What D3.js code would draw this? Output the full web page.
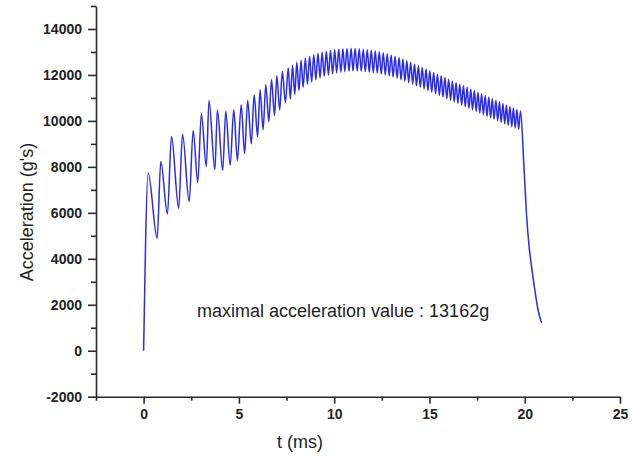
<!DOCTYPE html>
<html>
<head>
<meta charset="utf-8">
<script src="https://cdn.jsdelivr.net/npm/d3@7"></script>
<style>
  body { margin: 0; background: #fff; }
  .tick text { font-family: "Liberation Sans", Arial, sans-serif; font-weight: bold; font-size: 14px; fill: #222; }
  .label { font-family: "Liberation Sans", Arial, sans-serif; font-size: 18px; fill: #222; }
</style>
</head>
<body>
<svg id="root"></svg>
<script>
// time (ms) and acceleration (g's): start, early waves
const riseT = [0, 0.24, 0.71, 0.90, 1.25, 1.46, 1.84, 2.04, 2.39, 2.60, 2.84, 3.03, 3.29, 3.43, 3.74, 3.87,
  4.15, 4.31, 4.54, 4.73, 4.92, 5.12, 5.30, 5.46, 5.65, 5.80, 5.98, 6.11, 6.27, 6.41, 6.57, 6.71, 6.87, 6.99, 7.14, 7.28, 7.44];
const riseA = [0, 7726, 4895, 8232, 5950, 9320, 6200, 9425, 6490, 9582, 7330, 10309, 8014, 10888, 7880, 10480,
  7850, 10420, 8070, 10484, 8290, 10701, 8580, 10900, 9000, 11137, 9320, 11355, 9613, 11572, 9960, 11790, 10230, 11964, 10480, 12152, 10800];

// dense part: peaks and the troughs between them
const peakT = [7.59, 7.815, 8.039, 8.263, 8.486, 8.708, 8.929, 9.149, 9.369, 9.588, 9.806, 10.024, 10.241, 10.457, 10.672,
  10.887, 11.100, 11.314, 11.526, 11.737, 11.948, 12.158, 12.368, 12.576, 12.784, 12.991, 13.198, 13.403, 13.608, 13.812,
  14.015, 14.218, 14.420, 14.621, 14.821, 15.021, 15.220, 15.418, 15.615, 15.812, 16.008, 16.203, 16.397, 16.591, 16.784,
  16.976, 17.168, 17.358, 17.548, 17.737, 17.926, 18.113, 18.300, 18.487, 18.672, 18.857, 19.041, 19.224, 19.406, 19.588, 19.78];
const peakA = [12300, 12420, 12550, 12640, 12730, 12810, 12880, 12940, 12990, 13030, 13065, 13095, 13120, 13140, 13152,
  13162, 13155, 13140, 13122, 13100, 13075, 13045, 13010, 12970, 12920, 12870, 12815, 12755, 12690, 12620,
  12550, 12480, 12410, 12335, 12260, 12185, 12110, 12035, 11960, 11885, 11810, 11740, 11670, 11600, 11530,
  11460, 11390, 11320, 11250, 11180, 11110, 11040, 10970, 10900, 10830, 10760, 10695, 10630, 10565, 10500, 10430];
const troughT = [7.70, 7.93, 8.15, 8.37, 8.60, 8.82, 9.04, 9.26, 9.48, 9.70, 9.92, 10.13, 10.35, 10.56, 10.78,
  10.99, 11.21, 11.42, 11.63, 11.84, 12.05, 12.26, 12.47, 12.68, 12.89, 13.09, 13.30, 13.51, 13.71, 13.91,
  14.12, 14.32, 14.52, 14.72, 14.92, 15.12, 15.32, 15.52, 15.71, 15.91, 16.11, 16.30, 16.49, 16.69, 16.88,
  17.07, 17.26, 17.45, 17.64, 17.83, 18.02, 18.21, 18.39, 18.58, 18.76, 18.95, 19.13, 19.32, 19.50, 19.68];
const troughA = [10950, 11150, 11320, 11470, 11600, 11700, 11790, 11870, 11940, 12000, 12050, 12090, 12120, 12145, 12160,
  12170, 12170, 12160, 12145, 12125, 12100, 12070, 12040, 12000, 11960, 11910, 11855, 11795, 11730, 11665,
  11600, 11530, 11460, 11390, 11320, 11250, 11180, 11110, 11040, 10970, 10900, 10830, 10760, 10690, 10620,
  10550, 10480, 10410, 10340, 10270, 10200, 10135, 10070, 10005, 9940, 9875, 9810, 9750, 9690, 9640];

// release at the end
const fallT = [19.95, 20.09, 20.23, 20.36, 20.53, 20.70, 20.88];
const fallA = [8162, 5984, 4530, 3659, 2644, 1773, 1220];

const xMajor = [0, 5, 10, 15, 20, 25];
const xMinor = [-2.5, 2.5, 7.5, 12.5, 17.5, 22.5];
const yMajor = [-2000, 0, 2000, 4000, 6000, 8000, 10000, 12000, 14000];
const yMinor = [-1000, 1000, 3000, 5000, 7000, 9000, 11000, 13000, 15000];
const annotation = "maximal acceleration value : 13162g";

const margin = { top: 6, right: 19, bottom: 60.3, left: 96 },
  width = 639 - margin.left - margin.right,
  height = 457 - margin.top - margin.bottom;

const svg = d3.select("#root").attr("width", 639).attr("height", 457)
  .append("g")
  .attr("transform", "translate(" + margin.left + "," + margin.top + ")");

var xScale = d3.scaleLinear([-2.5, 25], [0, width]);
var yScale = d3.scaleLinear([-2000, 15000], [height, 0]);

// build the series in time order
const series = [];
riseT.forEach((t, i) => series.push([t, riseA[i]]));
peakT.forEach((t, i) => {
  series.push([t, peakA[i]]);
  if (i < troughT.length) series.push([troughT[i], troughA[i]]);
});
fallT.forEach((t, i) => series.push([t, fallA[i]]));

// plain hyphen for negatives, like the original
const fmt = d => String(d);

// axes
const axisColor = "#2a2a2a";
svg.append("g")
  .attr("transform", `translate(0,${height})`)
  .call(d3.axisBottom(xScale).tickValues(xMinor).tickSize(4).tickFormat(""))
  .call(g => g.select(".domain").remove());
svg.append("g")
  .call(d3.axisLeft(yScale).tickValues(yMinor).tickSize(5).tickFormat(""))
  .call(g => g.select(".domain").remove());

svg.append("g")
  .attr("transform", `translate(0,${height})`)
  .call(d3.axisBottom(xScale).tickValues(xMajor).tickSize(7).tickSizeOuter(0).tickPadding(5).tickFormat(fmt));
svg.append("g")
  .call(d3.axisLeft(yScale).tickValues(yMajor).tickSize(8).tickSizeOuter(0).tickPadding(6).tickFormat(fmt));

svg.selectAll(".domain, .tick line").attr("stroke", axisColor).attr("stroke-width", 1.6);

// axis labels
svg.append("text")
  .attr("class", "label")
  .attr("text-anchor", "middle")
  .attr("x", xScale(8.2))
  .attr("y", height + 51)
  .text("t (ms)");

svg.append("text")
  .attr("class", "label")
  .attr("text-anchor", "middle")
  .attr("transform", `translate(${33 - margin.left},${212 - margin.top}) rotate(-90)`)
  .text("Acceleration (g's)");

// annotation
svg.append("text")
  .attr("class", "label")
  .attr("x", 197 - margin.left)
  .attr("y", 317 - margin.top)
  .text(annotation);

// curve
var line = d3.line()
  .curve(d3.curveMonotoneX)
  .x(d => xScale(d[0]))
  .y(d => yScale(d[1]));
svg.append("path")
  .datum(series)
  .attr("fill", "none")
  .attr("stroke", "#2b2be8")
  .attr("stroke-width", 1.5)
  .attr("d", line);
</script>
</body>
</html>
